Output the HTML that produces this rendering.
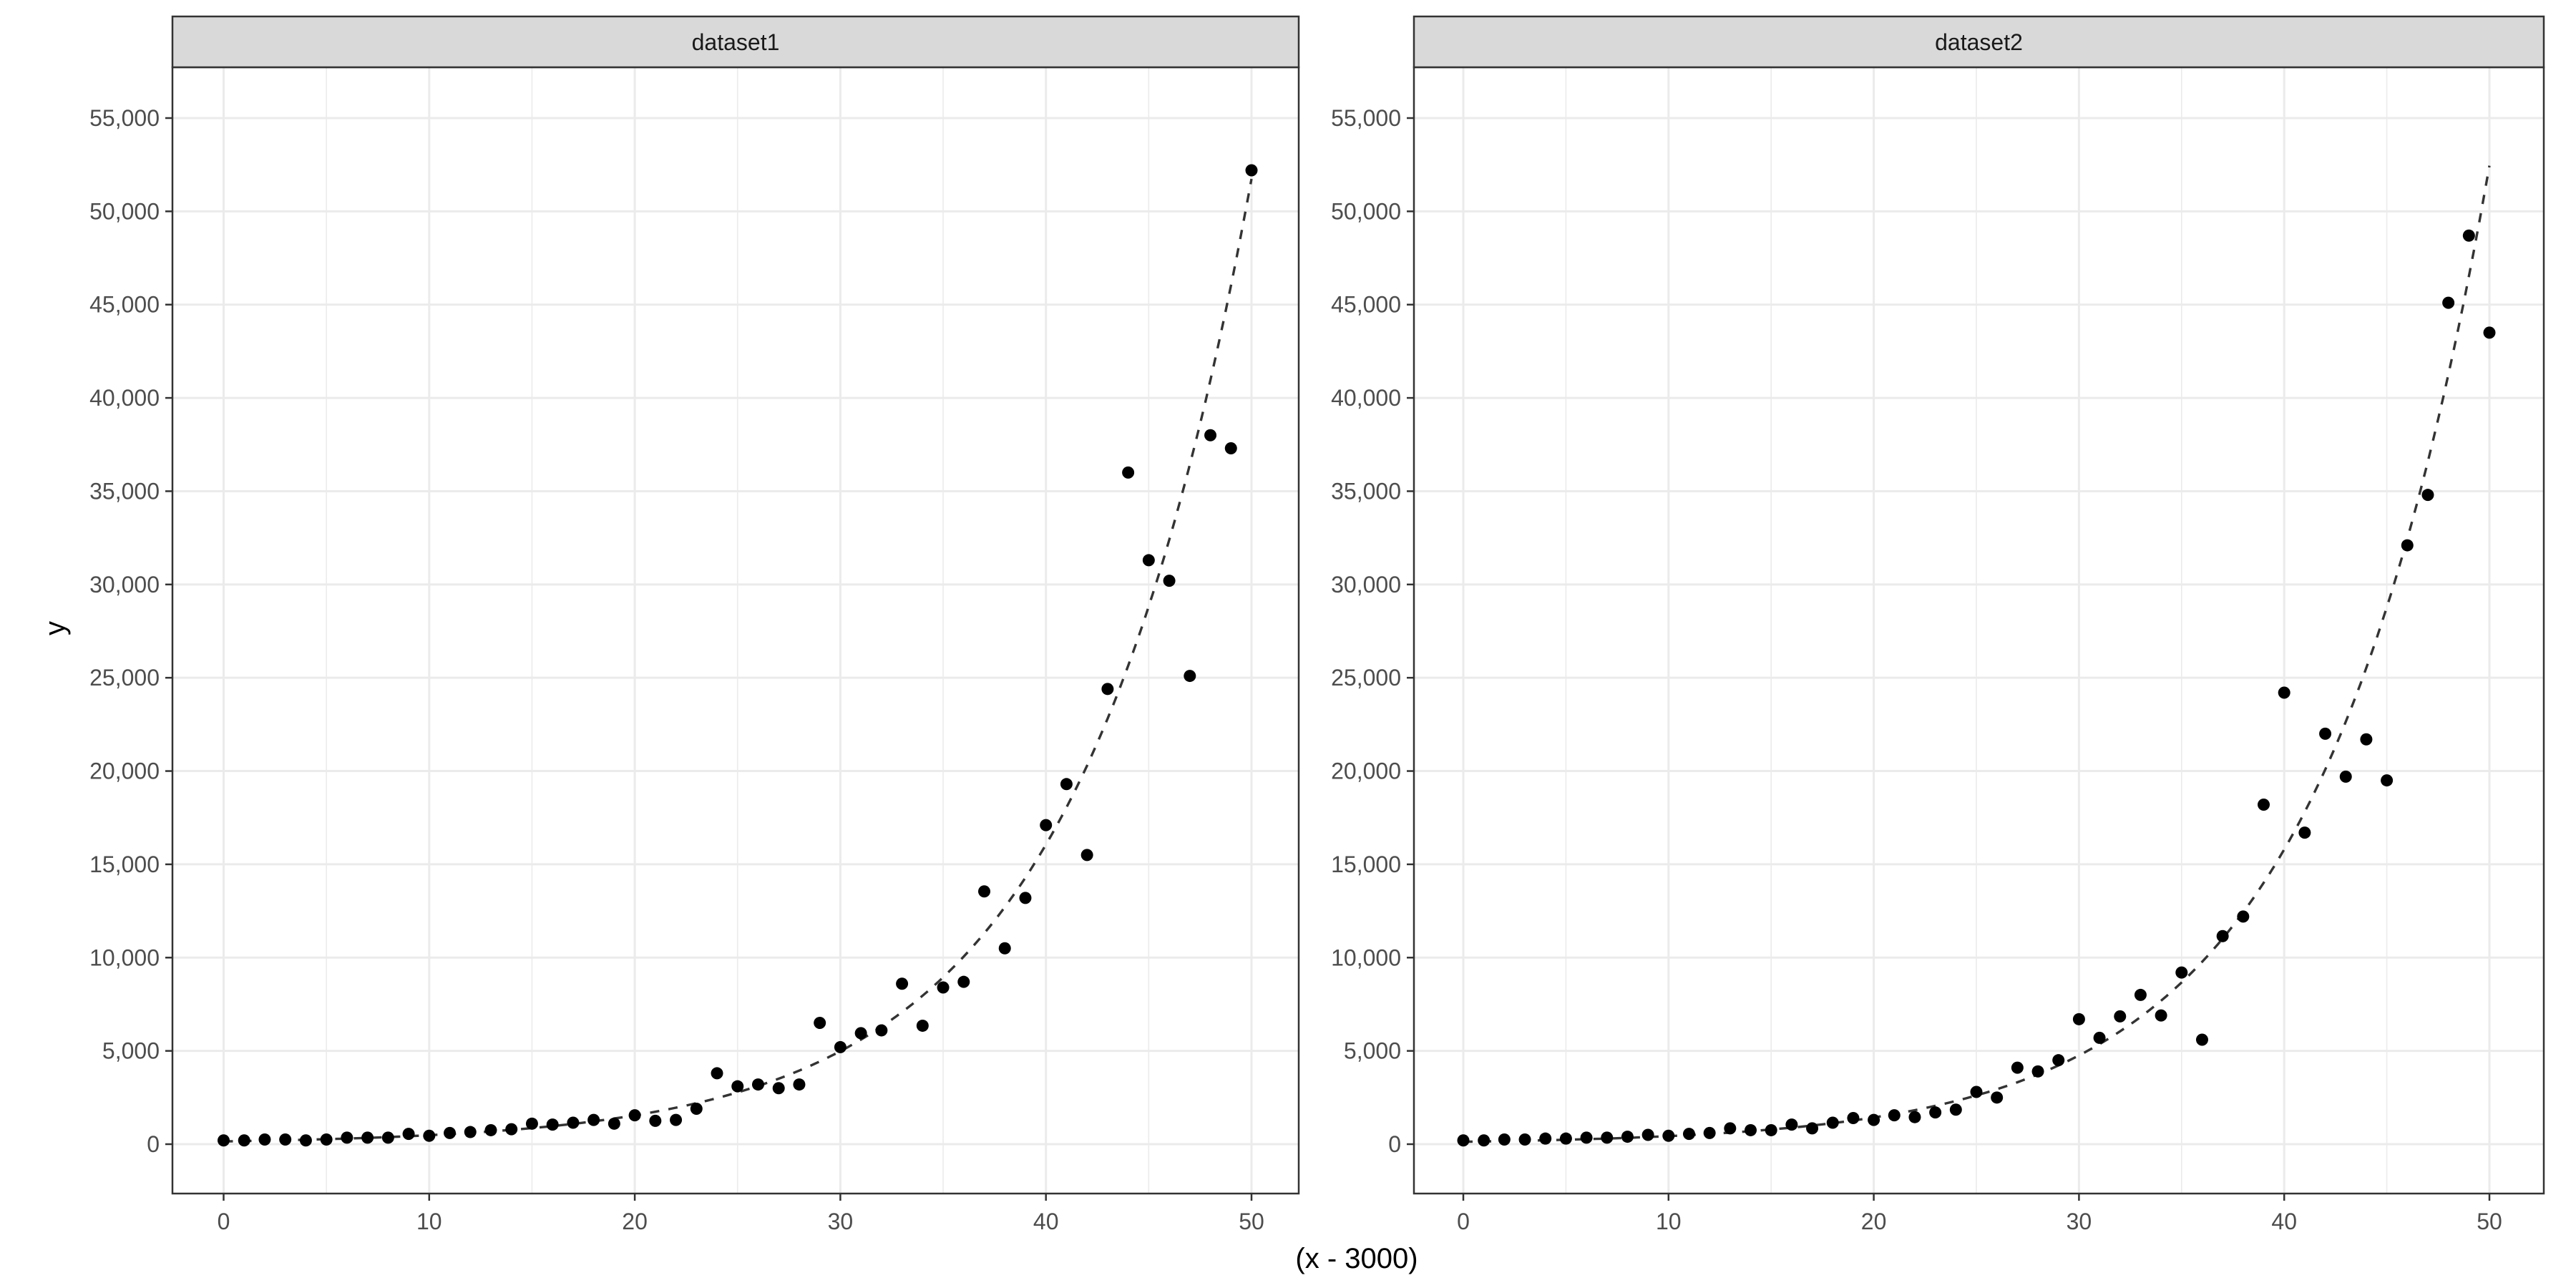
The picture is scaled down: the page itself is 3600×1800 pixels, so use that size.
<!DOCTYPE html>
<html><head><meta charset="utf-8"><style>
html,body{margin:0;padding:0;background:#fff;}
svg{display:block;font-family:"Liberation Sans",Arial,sans-serif;}
</style></head><body>
<svg id="chart" width="3600" height="1800" viewBox="0 0 3600 1800" xmlns="http://www.w3.org/2000/svg">
<rect width="3600" height="1800" fill="#fff"/>
<text x="1896" y="1772" font-size="40" text-anchor="middle" fill="#000">(x - 3000)</text>
<text transform="translate(90,878) rotate(-90)" font-size="40" text-anchor="middle" fill="#000">y</text>
</svg>
<script>
const xTicks = [0, 10, 20, 30, 40, 50];
const yTicks = [0, 5000, 10000, 15000, 20000, 25000, 30000, 35000, 40000, 45000, 50000, 55000];
const yTickLabels = ["0","5,000","10,000","15,000","20,000","25,000","30,000","35,000","40,000","45,000","50,000","55,000"];
const xMinor = [5, 15, 25, 35, 45];
const panelNames = ["dataset1", "dataset2"];
const xs = [0,1,2,3,4,5,6,7,8,9,10,11,12,13,14,15,16,17,18,19,20,21,22,23,24,25,26,27,28,29,30,31,32,33,34,35,36,37,38,39,40,41,42,43,44,45,46,47,48,49,50];
const y1 = [200,200,250,250,200,250,350,350,350,550,450,600,650,750,800,1100,1050,1150,1300,1100,1550,1250,1300,1900,3800,3100,3200,3000,3200,6500,5200,5950,6100,8600,6350,8400,8700,13550,10500,13200,17100,19300,15500,24400,36000,31300,30200,25100,38000,37300,52200];
const y2 = [200,200,250,250,300,300,350,350,400,500,450,550,600,850,750,750,1050,850,1150,1400,1300,1550,1450,1700,1850,2800,2500,4100,3900,4500,6700,5700,6850,8000,6900,9200,5600,11150,12200,18200,24200,16700,22000,19700,21700,19500,32100,34800,45100,48700,43500];
const fitA = [149, 130];
const fitB = [0.117, 0.12];

const NS = "http://www.w3.org/2000/svg";
const svg = document.getElementById("chart");
function mk(tag, attrs, parent) {
  const e = document.createElementNS(NS, tag);
  for (const k in attrs) e.setAttribute(k, attrs[k]);
  (parent || svg).appendChild(e);
  return e;
}
const panels = [
  {left:241, right:1815, x0:312.5, x50:1749},
  {left:1976, right:3555, x0:2045, x50:3479}
];
const stripTop = 23, stripBot = 94, pBot = 1668;
const yPix0 = 1599, yPix55 = 165;
function sy(v){ return yPix0 + (yPix55 - yPix0) * v / 55000; }
const series = [y1, y2];

panels.forEach((p, i) => {
  const sx = v => p.x0 + (p.x50 - p.x0) * v / 50;
  const g = mk("g", {});
  
  
  xMinor.forEach(v => {
    const l = mk("line", {x1:sx(v), x2:sx(v), y1:stripBot, y2:pBot, stroke:"#EBEBEB", "stroke-width":1.6}, g);
    
    
  });
  xTicks.forEach(v => {
    const l = mk("line", {x1:sx(v), x2:sx(v), y1:stripBot, y2:pBot, stroke:"#EBEBEB", "stroke-width":3}, g);
    
    
  });
  yTicks.forEach(v => {
    const l = mk("line", {x1:p.left, x2:p.right, y1:sy(v), y2:sy(v), stroke:"#EBEBEB", "stroke-width":3}, g);
    
    
  });
  let d = "";
  for (let k = 0; k <= 200; k++) {
    const xv = 50 * k / 200;
    const yv = fitA[i] * Math.exp(fitB[i] * xv);
    d += (k ? "L" : "M") + sx(xv).toFixed(1) + "," + sy(yv).toFixed(1);
  }
  const fit = mk("path", {d:d, fill:"none", stroke:"#333", "stroke-width":3.4, "stroke-dasharray":"13,13"}, g);
  
  
  xs.forEach((xv, j) => {
    const c = mk("circle", {cx:sx(xv), cy:sy(series[i][j]), r:8.5, fill:"#000"}, g);
    
    
  });
  const b = mk("rect", {x:p.left, y:stripBot, width:p.right-p.left, height:pBot-stripBot, fill:"none", stroke:"#333", "stroke-width":2.5}, g);
  
  
  const s = mk("rect", {x:p.left, y:stripTop, width:p.right-p.left, height:stripBot-stripTop, fill:"#D9D9D9", stroke:"#333", "stroke-width":2.5}, g);
  
  
  const st = mk("text", {x:(p.left+p.right)/2, y:70, "font-size":32, "text-anchor":"middle", fill:"#1A1A1A"}, g);
  st.textContent = panelNames[i];
  
  
  xTicks.forEach(v => {
    const t = mk("line", {x1:sx(v), x2:sx(v), y1:pBot, y2:pBot+10, stroke:"#333", "stroke-width":2.5}, g);
    
    
    const tl = mk("text", {x:sx(v), y:pBot+50, "font-size":32, "text-anchor":"middle", fill:"#4D4D4D"}, g);
    tl.textContent = String(v);
    
    
  });
  yTicks.forEach((v, k) => {
    const t = mk("line", {x1:p.left-10, x2:p.left, y1:sy(v), y2:sy(v), stroke:"#333", "stroke-width":2.5}, g);
    
    
    const tl = mk("text", {x:p.left-18, y:sy(v)+11, "font-size":32, "text-anchor":"end", fill:"#4D4D4D"}, g);
    tl.textContent = yTickLabels[k];
    
    
  });
});
</script>
</body></html>
